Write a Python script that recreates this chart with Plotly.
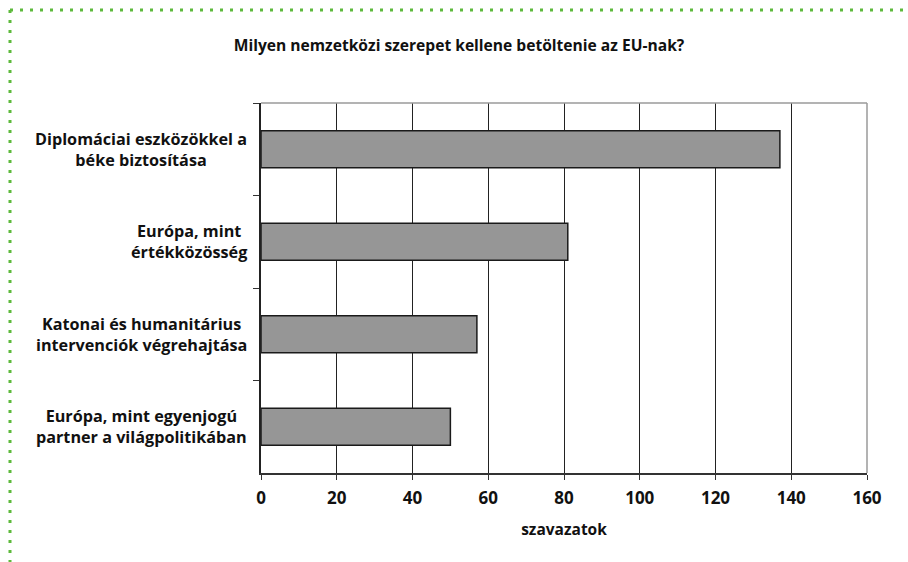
import plotly.graph_objects as go

# Survey responses, listed top to bottom as shown
categories = [
    "Diplomáciai eszközökkel a<br>béke biztosítása",
    "Európa, mint<br>értékközösség",
    "Katonai és humanitárius<br>intervenciók végrehajtása",
    "Európa, mint egyenjogú<br>partner a világpolitikában",
]
votes = [137, 81, 57, 50]
x_ticks = [0, 20, 40, 60, 80, 100, 120, 140, 160]

title_text = "Milyen nemzetközi szerepet kellene betöltenie az EU-nak?"
x_title = "szavazatok"

W, H = 908, 562
L, R, T, B = 261, 867, 103, 473  # plot area in pixels
FONT = "Open Sans"
INK = "#111111"

fig = go.Figure(
    go.Bar(
        x=votes,
        y=categories,
        orientation="h",
        marker=dict(color="#969696", line=dict(color="#1a1a1a", width=1.5)),
        width=0.4,
        hoverinfo="x+y",
    )
)

# Category labels as centred multi-line annotations left of the axis
for cat in categories:
    fig.add_annotation(
        x=-12 / (R - L), xref="paper", xanchor="right",
        y=cat, yref="y", yanchor="middle",
        text=cat, showarrow=False, align="center",
        font=dict(family=FONT, size=16.2, color=INK, weight="bold"),
    )

def px_x(p):
    return (p - L) / (R - L)

def px_y(p):
    return (B - p) / (B - T)

# Green dotted frame along the top and left edges
dot = dict(color="#5dba3b", width=3, dash="3px,7px")
fig.add_shape(type="line", xref="paper", yref="paper",
              x0=px_x(10), x1=px_x(W + 5), y0=px_y(10), y1=px_y(10), line=dot)
fig.add_shape(type="line", xref="paper", yref="paper",
              x0=px_x(10), x1=px_x(10), y0=px_y(10), y1=px_y(H + 5), line=dot)

# Grey frame on the top and right of the plot area
fig.add_shape(type="line", xref="paper", yref="paper",
              x0=0, x1=1, y0=1, y1=1, line=dict(color="#9a9a9a", width=1.5))
fig.add_shape(type="line", xref="paper", yref="paper",
              x0=1, x1=1, y0=0, y1=1, line=dict(color="#9a9a9a", width=1.5))

fig.update_layout(
    width=W, height=H,
    margin=dict(l=L, r=W - R, t=T, b=H - B),
    paper_bgcolor="white", plot_bgcolor="white",
    showlegend=False,
    title=dict(
        text=title_text, x=(459 - L) / (R - L), xref="paper", xanchor="center",
        y=1 - 46 / H, yref="container", yanchor="middle",
        font=dict(family=FONT, size=15.6, color=INK, weight="bold"),
    ),
    xaxis=dict(
        range=[0, 160], tickvals=x_ticks, ticktext=[str(v) for v in x_ticks],
        showgrid=True, gridcolor="#222222", gridwidth=1,
        showline=True, linecolor="#333333", linewidth=1.5,
        ticks="outside", ticklen=5, tickcolor="#333333", tickwidth=1,
        ticklabelstandoff=4,
        tickfont=dict(family=FONT, size=17, color=INK, weight="bold"),
        title=dict(text=x_title, standoff=16,
                   font=dict(family=FONT, size=15.5, color=INK, weight="bold")),
        zeroline=False, fixedrange=True,
    ),
    yaxis=dict(
        autorange="reversed", showticklabels=False,
        showline=True, linecolor="#222222", linewidth=1.5,
        ticks="outside", tickson="boundaries", ticklen=6,
        tickcolor="#333333", tickwidth=1,
        showgrid=False, zeroline=False, fixedrange=True,
    ),
)

fig.write_html("out.html")
